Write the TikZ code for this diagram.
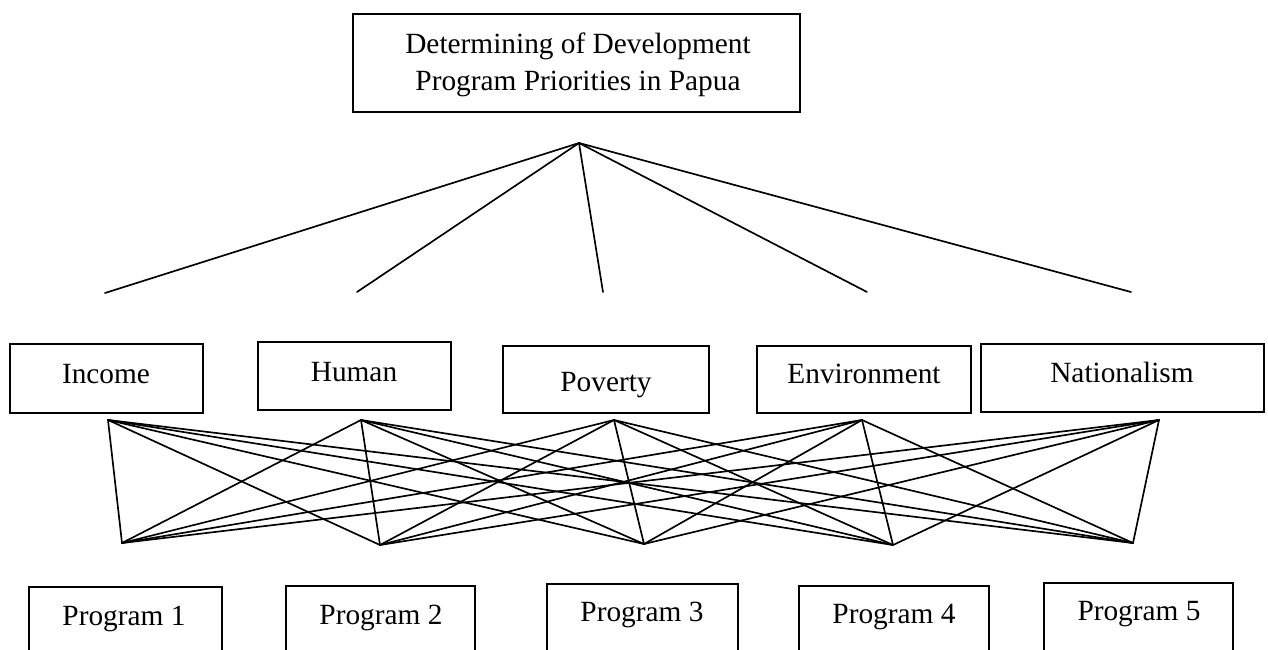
\documentclass[tikz,border=0pt]{standalone}
\usepackage{fontspec}
\setmainfont{Liberation Serif}
\usetikzlibrary{fit}
\begin{document}
\begin{tikzpicture}[x=0.75pt,y=-0.75pt,
  box/.style={draw, line width=1.1pt, inner sep=0pt},
  lbl/.style={anchor=base, inner sep=0pt, font=\fontsize{22}{27.75}\selectfont},
  link/.style={line width=1.25pt, line join=round, line cap=round}]
\useasboundingbox (0,0) rectangle (1268,650);
\clip (0,0) rectangle (1268,650);
% top goal
\node[box, fit={(353,14)(800,112)}] (goal) {};
\node[lbl] (goalT1) at (578,53) {Determining of Development};
\node[lbl] (goalT2) at (578,90) {Program Priorities in Papua};
% apex and free ends
\coordinate (apex) at (579,143);
\coordinate (e1) at (105,293);
\coordinate (e2) at (357,292);
\coordinate (e3) at (603,292);
\coordinate (e4) at (867,292);
\coordinate (e5) at (1131,292);
\foreach \k in {1,...,5} \draw[link] (apex) -- (e\k);
% criteria
\node[box, fit={(10,344)(203,413)}] (income) {};
\node[lbl] (incomeT) at (106,383) {Income};
\node[box, fit={(258,342)(451,410)}] (human) {};
\node[lbl] (humanT) at (354,381) {Human};
\node[box, fit={(503,346)(709,413)}] (poverty) {};
\node[lbl] (povertyT) at (606,391) {Poverty};
\node[box, fit={(757,346)(971,413)}] (environment) {};
\node[lbl] (environmentT) at (864,383) {Environment};
\node[box, fit={(981,344)(1264,412)}] (nationalism) {};
\node[lbl] (nationalismT) at (1122,382) {Nationalism};
% programs
\node[box, fit={(29,587)(222,680)}] (p1) {};
\node[lbl] (p1T) at (124,625) {Program 1};
\node[box, fit={(286,586)(475,680)}] (p2) {};
\node[lbl] (p2T) at (381,624) {Program 2};
\node[box, fit={(547,584)(738,680)}] (p3) {};
\node[lbl] (p3T) at (642,621) {Program 3};
\node[box, fit={(799,586)(989,680)}] (p4) {};
\node[lbl] (p4T) at (894,623) {Program 4};
\node[box, fit={(1044,583)(1233,680)}] (p5) {};
\node[lbl] (p5T) at (1139,620) {Program 5};
% bipartite connectors
\coordinate (u1) at (108,420);
\coordinate (u2) at (361,420);
\coordinate (u3) at (614,420);
\coordinate (u4) at (862,420);
\coordinate (u5) at (1159,420);
\coordinate (d1) at (122,543);
\coordinate (d2) at (380,545);
\coordinate (d3) at (644,544);
\coordinate (d4) at (893,545);
\coordinate (d5) at (1133,543);
\foreach \i in {1,...,5}
  \foreach \j in {1,...,5}
    \draw[link] (u\i) -- (d\j);
\end{tikzpicture}
\end{document}
